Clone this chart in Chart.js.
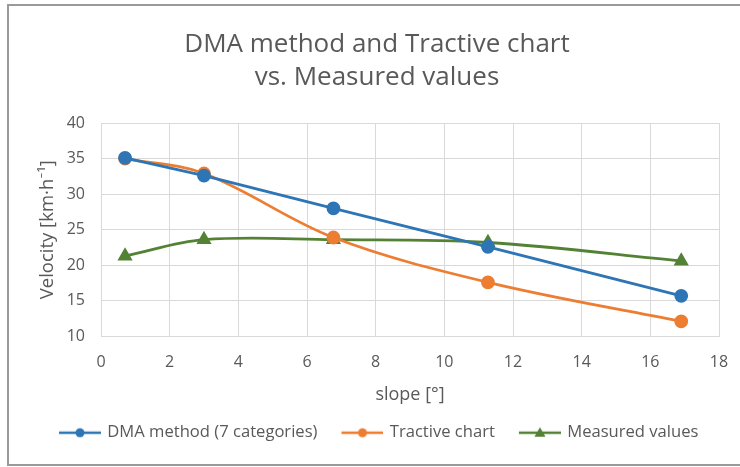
<!DOCTYPE html>
<html>
<head>
<meta charset="utf-8">
<script src="https://cdn.jsdelivr.net/npm/chart.js@4.4.1/dist/chart.umd.min.js"></script>
<style>
  html, body { margin: 0; padding: 0; background: #ffffff; overflow: hidden; }
  #wrap { position: relative; width: 740px; height: 467px; }
  #frame { position: absolute; left: 7px; top: 4px; width: 800px; height: 462px; border: 2px solid #9a9a9a; box-sizing: border-box; pointer-events: none; }
  canvas { position: absolute; left: 0; top: 0; }
</style>
</head>
<body>
<div id="wrap">
  <canvas id="c" width="740" height="467"></canvas>
  <div id="frame"></div>
</div>
<script>
// ---- data ----
const titleLines = ['DMA method and Tractive chart', 'vs. Measured values'];
const xAxisTitle = 'slope [°]';
const yAxisTitle = 'Velocity [km·h⁻¹]';
const seriesNames = ['DMA method (7 categories)', 'Tractive chart', 'Measured values'];

const slope = [0.7, 3.0, 6.77, 11.27, 16.9];
const dmaValues = [35.1, 32.6, 28.0, 22.6, 15.7];
const tractiveValues = [35.0, 32.9, 23.9, 17.6, 12.1];
const measuredValues = [21.3, 23.6, 23.6, 23.2, 20.6];

const xTicks = [0, 2, 4, 6, 8, 10, 12, 14, 16, 18];
const yTicks = [10, 15, 20, 25, 30, 35, 40];

const colors = ['#2E75B6', '#ED7D31', '#548235'];
const FONT = '"Open Sans", Lato, sans-serif';
const TXT = '#595959';

function pts(xs, ys) { return xs.map((x, i) => ({ x: x, y: ys[i] })); }

// legend icon: line with marker, drawn in a canvas wider than the box so it sits next to the text
const BOXW = 58;
function legendIcon(color, shape) {
  const cv = document.createElement('canvas');
  cv.width = BOXW + 4; cv.height = 16;
  const g = cv.getContext('2d');
  const x0 = BOXW - 38, x1 = BOXW + 4, cx = (x0 + x1) / 2, cy = 8;
  g.strokeStyle = color; g.lineWidth = 2.5;
  g.beginPath(); g.moveTo(x0, cy); g.lineTo(x1, cy); g.stroke();
  g.fillStyle = color;
  g.beginPath();
  if (shape === 'triangle') { g.moveTo(cx, cy - 5.5); g.lineTo(cx + 5.5, cy + 4); g.lineTo(cx - 5.5, cy + 4); g.closePath(); }
  else { g.arc(cx, cy, 4.5, 0, Math.PI * 2); }
  g.fill();
  return cv;
}
const icons = [legendIcon(colors[0], 'circle'), legendIcon(colors[1], 'circle'), legendIcon(colors[2], 'triangle')];

new Chart(document.getElementById('c'), {
  type: 'line',
  data: {
    datasets: [
      { label: seriesNames[0], data: pts(slope, dmaValues), borderColor: colors[0], backgroundColor: colors[0],
        borderWidth: 2.8, pointRadius: 5.5, pointStyle: 'circle', tension: 0 },
      { label: seriesNames[1], data: pts(slope, tractiveValues), borderColor: colors[1], backgroundColor: colors[1],
        borderWidth: 2.8, pointRadius: 5.5, pointStyle: 'circle', tension: 0.35 },
      { label: seriesNames[2], data: pts(slope, measuredValues), borderColor: colors[2], backgroundColor: colors[2],
        borderWidth: 2.8, pointRadius: 6, pointStyle: 'triangle', tension: 0.35 }
    ]
  },
  options: {
    responsive: false,
    animation: false,
    events: [],
    layout: { padding: { left: 35, right: 21, top: 0, bottom: 16 } },
    plugins: {
      title: {
        display: true, text: titleLines, color: TXT,
        font: { family: FONT, size: 26, weight: 'normal', lineHeight: 1.25 },
        padding: { top: 28.75, bottom: 29.25 }
      },
      legend: {
        position: 'bottom',
        align: 'start',
        labels: {
          usePointStyle: true, pointStyleWidth: BOXW,
          generateLabels: (chart) => chart.data.datasets.map((ds, i) => ({
            text: ds.label, pointStyle: icons[i], fillStyle: colors[i], strokeStyle: colors[i],
            fontColor: TXT, lineWidth: 0, datasetIndex: i, hidden: false
          })),
          color: TXT, font: { family: FONT, size: 16.6 }, padding: 6
        }
      },
      tooltip: { enabled: false }
    },
    scales: {
      x: {
        type: 'linear', min: 0, max: 18,
        afterBuildTicks: (s) => { s.ticks = xTicks.map(v => ({ value: v })); },
        afterFit: (s) => { s.height = 82; },
        grid: { color: '#d9d9d9', drawTicks: true, tickLength: 10, tickColor: 'rgba(0,0,0,0)', lineWidth: 1 },
        border: { color: '#d9d9d9' },
        ticks: { color: TXT, font: { family: FONT, size: 16 }, padding: 6, maxRotation: 0 },
        title: { display: true, text: xAxisTitle, color: TXT, font: { family: FONT, size: 18 }, padding: { top: 0, bottom: 13 } }
      },
      y: {
        type: 'linear', min: 10, max: 40,
        afterBuildTicks: (s) => { s.ticks = yTicks.map(v => ({ value: v })); },
        afterFit: (s) => { s.width = 66; },
        grid: { color: '#d9d9d9', drawTicks: false, lineWidth: 1 },
        border: { color: '#d9d9d9' },
        ticks: { color: TXT, font: { family: FONT, size: 16 }, padding: 16 },
        title: { display: true, text: yAxisTitle, color: TXT, font: { family: FONT, size: 18.5 }, padding: { top: 2, bottom: 0 } }
      }
    }
  }
});
</script>
</body>
</html>
